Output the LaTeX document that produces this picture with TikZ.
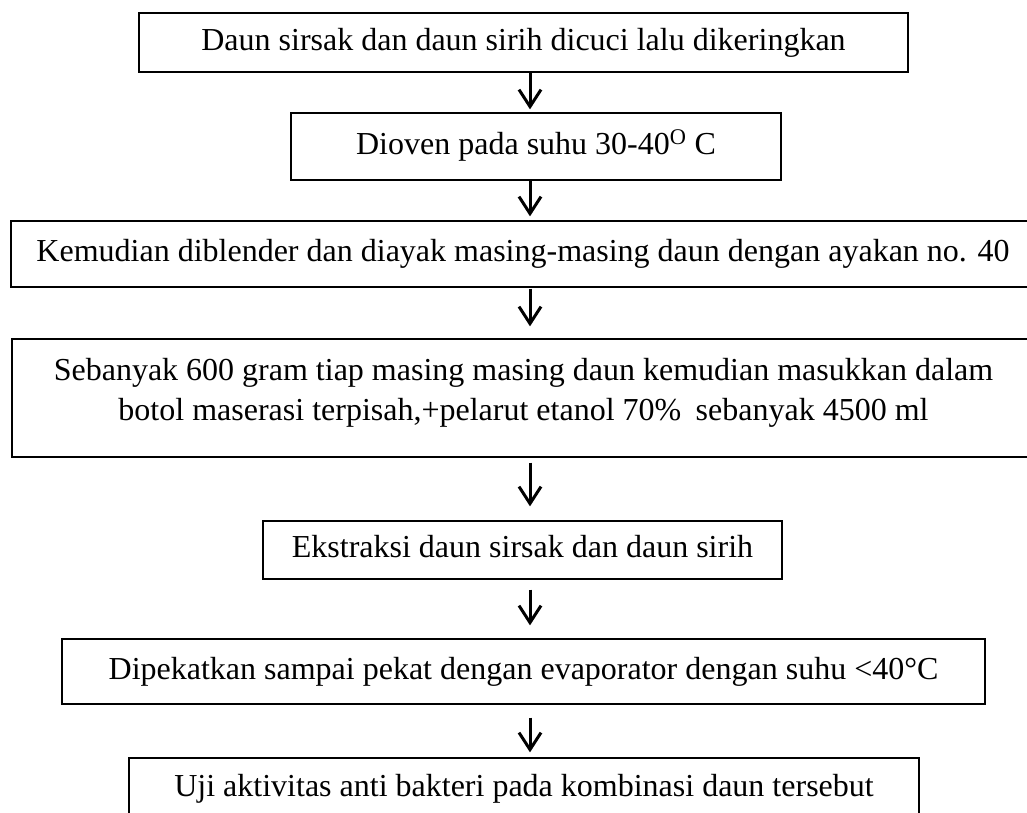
\documentclass[tikz,border=0pt]{standalone}
\usepackage{fontspec}
\setmainfont{Liberation Serif}
\usetikzlibrary{arrows.meta}
\tikzset{
  box/.style={draw=black, line width=1.3pt, inner sep=0pt, align=center,
    font=\fontsize{32}{40}\selectfont},
  oneline/.style={text height=22pt, text depth=7pt},
  arr/.style={line width=3pt, -{Straight Barb[length=17pt,width=22pt]}}
}
\begin{document}
\begin{tikzpicture}[x=1pt,y=-1pt]
\useasboundingbox (0,0) rectangle (1027,812);
\node[box,oneline,minimum width=769pt,minimum height=59pt] (b1) at (523.5,42.5)
  {Daun sirsak dan daun sirih dicuci lalu dikeringkan};
\node[box,oneline,minimum width=490pt,minimum height=67pt] (b2) at (536,146.5)
  {Dioven pada suhu 30-40\textsuperscript{O} C};
\node[box,oneline,minimum width=1060pt,minimum height=66pt] (b3) at (541,254)
  {Kemudian diblender dan diayak masing-masing daun dengan ayakan no. 40\hspace*{36pt}};
\node[box,minimum width=1023pt,minimum height=118pt] (b4) at (523.5,398)
  {\parbox[c][118pt][t]{1023pt}{\centering\vspace*{19pt}Sebanyak 600 gram tiap masing masing daun kemudian masukkan dalam\\
   botol maserasi terpisah,+pelarut etanol 70\%\hspace{0.45em}sebanyak 4500 ml}};
\node[box,oneline,minimum width=519pt,minimum height=58pt] (b5) at (522.5,550)
  {Ekstraksi daun sirsak dan daun sirih};
\node[box,oneline,minimum width=923pt,minimum height=65pt] (b6) at (523.5,671.5)
  {Dipekatkan sampai pekat dengan evaporator dengan suhu <40°C};
\node[box,oneline,minimum width=790pt,minimum height=62pt] (b7) at (524,789)
  {Uji aktivitas anti bakteri pada kombinasi daun tersebut};
\coordinate (ax) at (530,0);
\draw[arr,shorten >=3pt] (b1.south -| ax) -- (b2.north -| ax);
\draw[arr,shorten >=4pt] (b2.south -| ax) -- (b3.north -| ax);
\draw[arr,shorten <=1pt,shorten >=12pt] (b3.south -| ax) -- (b4.north -| ax);
\draw[arr,shorten <=5pt,shorten >=14pt] (b4.south -| ax) -- (b5.north -| ax);
\draw[arr,shorten <=10pt,shorten >=13pt] (b5.south -| ax) -- (b6.north -| ax);
\draw[arr,shorten <=13pt,shorten >=5pt] (b6.south -| ax) -- (b7.north -| ax);
\end{tikzpicture}
\end{document}
